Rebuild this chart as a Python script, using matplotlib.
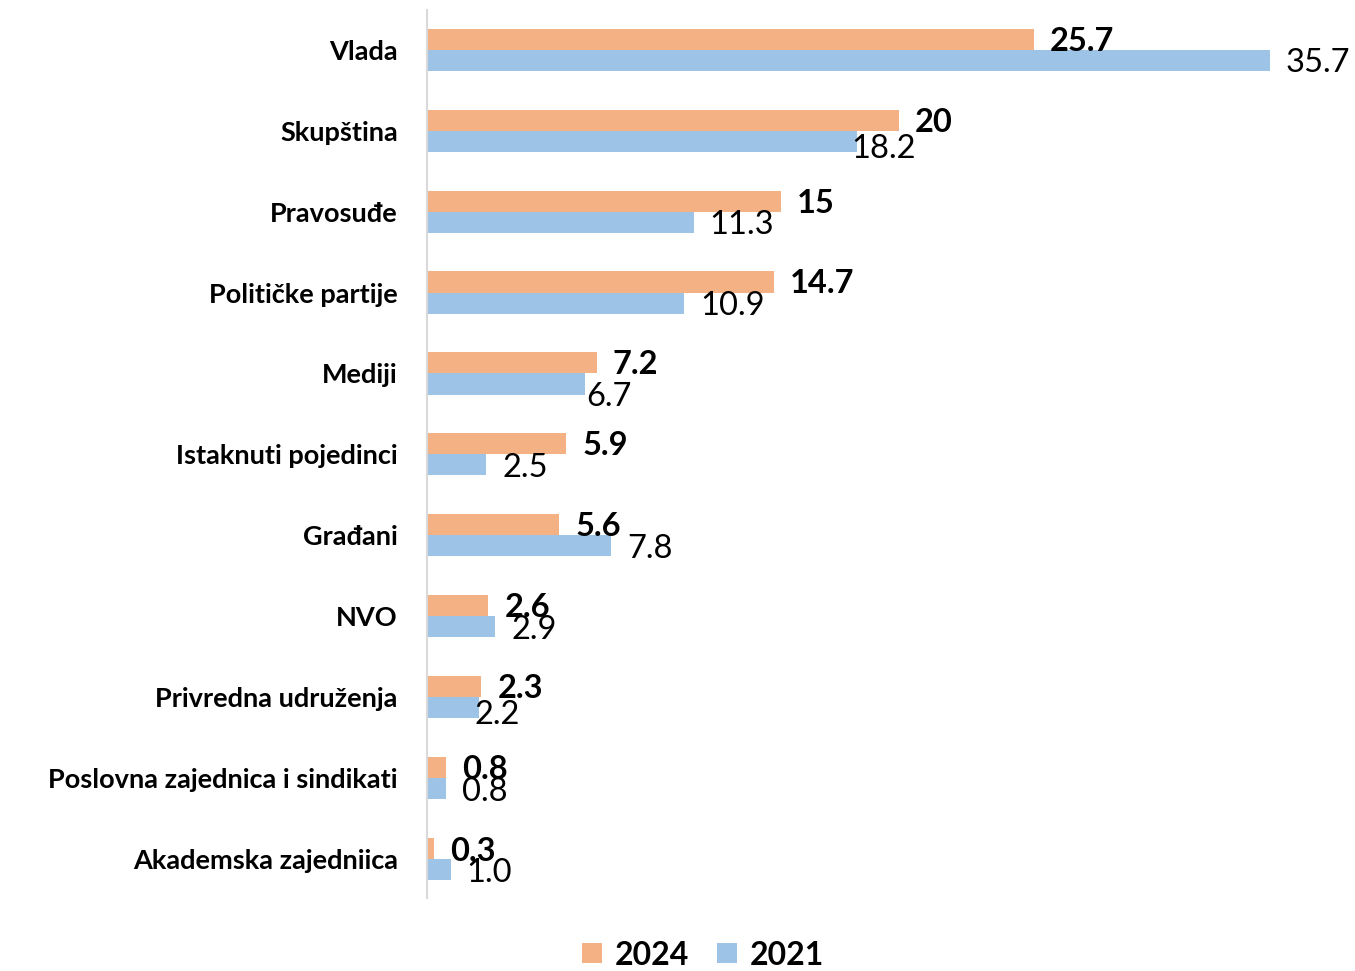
import matplotlib
matplotlib.use("Agg")
import matplotlib.pyplot as plt
import numpy as np

plt.rcParams['font.family'] = ['Lato', 'DejaVu Sans']

# data
categories = ["Vlada", "Skupština", "Pravosuđe", "Političke partije", "Mediji",
              "Istaknuti pojedinci", "Građani", "NVO", "Privredna udruženja",
              "Poslovna zajednica i sindikati", "Akademska zajedniica"]
vals_2024 = [25.7, 20, 15, 14.7, 7.2, 5.9, 5.6, 2.6, 2.3, 0.8, 0.3]
vals_2021 = [35.7, 18.2, 11.3, 10.9, 6.7, 2.5, 7.8, 2.9, 2.2, 0.8, 1.0]
labels_2024 = ["25.7", "20", "15", "14.7", "7.2", "5.9", "5.6", "2.6", "2.3", "0.8", "0,3"]
labels_2021 = ["35.7", "18.2", "11.3", "10.9", "6.7", "2.5", "7.8", "2.9", "2.2", "0.8", "1.0"]

# a few 2021 labels sit off their usual spot in the original (pixels)
nudge_2021 = {"Skupština": (-21, -5), "Mediji": (-15, -10), "Privredna udruženja": (-20, -4)}

c2024 = "#F4B183"
c2021 = "#9DC3E6"

fig = plt.figure(figsize=(13.55, 9.71), dpi=100)
ax = fig.add_axes([427 / 1355, 73 / 971, 897 / 1355, 888 / 971])

y = np.arange(len(categories))
h = 0.26
ax.barh(y - h / 2, vals_2024, height=h, color=c2024, label="2024")
ax.barh(y + h / 2, vals_2021, height=h, color=c2021, label="2021")

for i, cat in enumerate(categories):
    ax.annotate(labels_2024[i], (vals_2024[i], y[i] - h / 2), xytext=(16, -2),
                textcoords="offset pixels", ha="left", va="center",
                fontsize=23.5, fontweight="bold")
    dx, dy = nudge_2021.get(cat, (0, 0))
    ax.annotate(labels_2021[i], (vals_2021[i], y[i] + h / 2), xytext=(16 + dx, -3 + dy),
                textcoords="offset pixels", ha="left", va="center",
                fontsize=23.5)

ax.set_xlim(0, 38)
ax.set_ylim(10.48, -0.49)
ax.set_yticks(y)
ax.set_yticklabels(categories, fontsize=19.5, fontweight="bold")
ax.tick_params(axis="y", length=0, pad=21)
ax.set_xticks([])
for s in ["top", "right", "bottom"]:
    ax.spines[s].set_visible(False)
ax.spines["left"].set_color("#D9D9D9")
ax.spines["left"].set_linewidth(1.5)

fig.legend(loc="center", bbox_to_anchor=(703 / 1355, 16 / 971), ncol=2, frameon=False,
           prop={"size": 23, "weight": "bold"}, handlelength=0.6, handleheight=0.6,
           handletextpad=0.4, columnspacing=0.9, borderpad=0)

fig.savefig("out.png", dpi=100)
